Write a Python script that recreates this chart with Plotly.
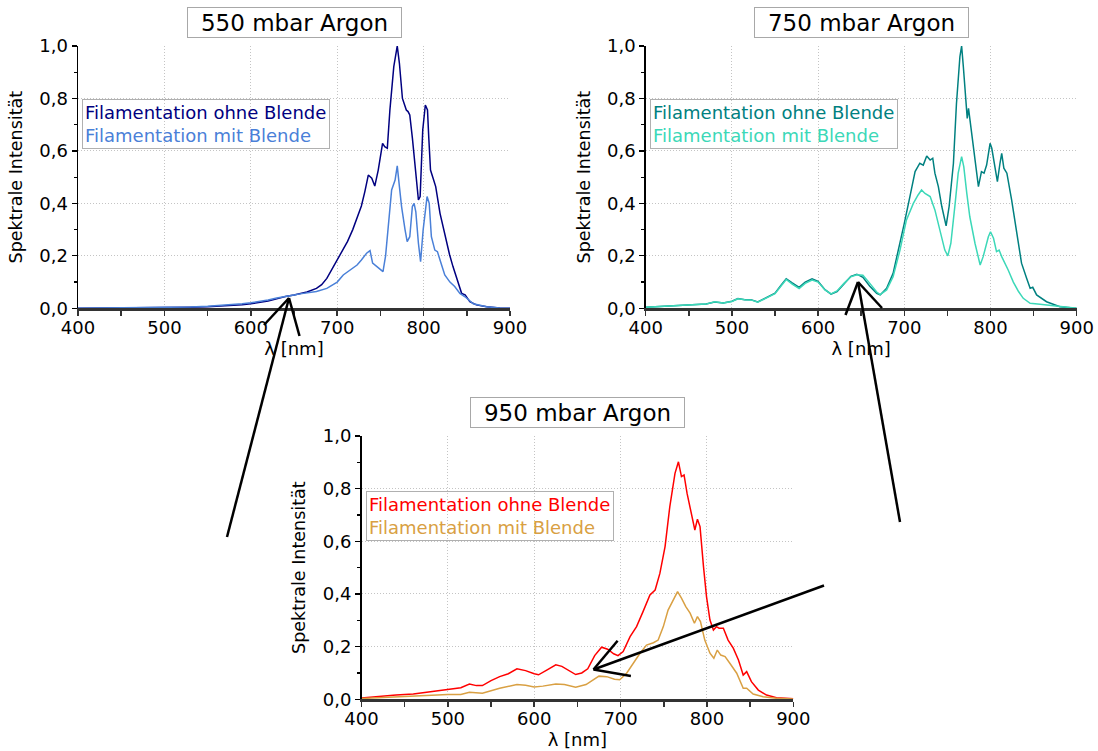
import plotly.graph_objects as go

# ---------------- data ----------------
wl_550_ohne = [400, 450, 500, 530, 550, 570, 590, 600, 610, 620, 630, 640, 650, 657, 665, 676, 682, 688, 694,
               700, 707, 712, 718, 723, 728, 732, 736, 740, 743.5, 747.5, 752.5, 755, 758, 761, 765.5, 769.5,
               772, 775.5, 778, 780, 782, 784, 787, 790, 794, 796, 799, 802, 804.5, 806, 808, 811, 814, 819,
               823, 826.5, 830, 834, 840, 844, 848, 853.5, 861, 873, 888, 900]
int_550_ohne = [0.0, 0.001, 0.002, 0.004, 0.006, 0.009, 0.014, 0.017, 0.022, 0.028, 0.036, 0.045, 0.051, 0.055,
                0.062, 0.076, 0.090, 0.114, 0.150, 0.184, 0.222, 0.255, 0.300, 0.345, 0.390, 0.445, 0.508,
                0.496, 0.466, 0.527, 0.629, 0.616, 0.610, 0.756, 0.921, 1.0, 0.934, 0.800, 0.770, 0.756, 0.750,
                0.737, 0.650, 0.553, 0.413, 0.426, 0.680, 0.775, 0.756, 0.650, 0.527, 0.496, 0.464, 0.362,
                0.300, 0.248, 0.205, 0.159, 0.095, 0.057, 0.051, 0.025, 0.013, 0.006, 0.001, 0.0]

wl_550_mit = [400, 450, 500, 530, 550, 570, 590, 600, 610, 620, 630, 640, 650, 657, 666, 676, 688, 694, 700,
              707, 713, 718.5, 723, 728, 734, 738, 741, 746, 750, 753, 756, 758, 761, 763, 767, 769.5, 772,
              774.5, 778.5, 781, 784, 787, 789, 791, 794, 796.5, 799.5, 802, 804, 806.5, 809, 813, 816, 819,
              824.5, 830.5, 836, 842, 848, 857.5, 873, 888, 900]
int_550_mit = [0.0, 0.001, 0.003, 0.005, 0.008, 0.012, 0.017, 0.021, 0.026, 0.032, 0.039, 0.046, 0.051, 0.055,
               0.060, 0.064, 0.076, 0.088, 0.100, 0.127, 0.140, 0.152, 0.165, 0.184, 0.210, 0.220, 0.172,
               0.159, 0.150, 0.140, 0.200, 0.273, 0.380, 0.451, 0.489, 0.543, 0.464, 0.388, 0.300, 0.254,
               0.273, 0.388, 0.400, 0.368, 0.248, 0.178, 0.300, 0.380, 0.426, 0.400, 0.273, 0.222, 0.216,
               0.184, 0.127, 0.100, 0.083, 0.057, 0.044, 0.017, 0.006, 0.001, 0.0]

wl_750_ohne = [400, 430, 450, 470, 480, 490, 500, 507, 515, 522, 530, 540, 550, 557, 563, 570, 578, 585, 593,
               600, 608, 615, 622, 630, 638, 645, 652, 660, 668, 672, 679.5, 687, 695, 700, 706.5, 712.5, 718,
               722, 726, 730, 733, 735.5, 739.5, 743.5, 748.5, 752, 757, 760.5, 764.5, 766.5, 768.5, 771.5,
               773, 774.5, 777.5, 782, 786, 789.5, 792.5, 795.5, 799.5, 801.5, 805, 808, 811, 813, 815.5, 819,
               824.5, 830.5, 836, 842, 846, 849, 853.5, 865, 880.5, 896, 900]
int_750_ohne = [0.004, 0.008, 0.011, 0.016, 0.024, 0.020, 0.027, 0.037, 0.033, 0.033, 0.024, 0.042, 0.058,
                0.088, 0.113, 0.097, 0.080, 0.100, 0.112, 0.103, 0.071, 0.054, 0.064, 0.093, 0.122, 0.130,
                0.118, 0.084, 0.057, 0.051, 0.076, 0.133, 0.248, 0.324, 0.426, 0.521, 0.553, 0.546, 0.581,
                0.565, 0.572, 0.515, 0.464, 0.388, 0.314, 0.388, 0.553, 0.780, 0.959, 1.0, 0.921, 0.794, 0.724,
                0.762, 0.680, 0.565, 0.464, 0.521, 0.515, 0.546, 0.629, 0.610, 0.540, 0.483, 0.553, 0.591,
                0.534, 0.515, 0.413, 0.286, 0.172, 0.114, 0.076, 0.080, 0.051, 0.025, 0.006, 0.001, 0.0]

wl_750_mit = [400, 430, 450, 470, 480, 490, 500, 507, 515, 522, 530, 540, 550, 557, 563, 570, 578, 585, 593,
              600, 608, 615, 622, 630, 638, 645, 652, 660, 668, 672, 679.5, 687, 695, 702.5, 710.5, 716, 720,
              724, 730, 735.5, 741.5, 747, 750.5, 754, 759, 762.5, 766.5, 769, 772.5, 776, 782, 788, 791.5,
              797.5, 800, 803.5, 807, 810, 813, 817, 820.5, 826.5, 832.5, 838, 846, 857.5, 873, 888.5, 900]
int_750_mit = [0.004, 0.008, 0.011, 0.016, 0.025, 0.020, 0.026, 0.036, 0.033, 0.032, 0.023, 0.040, 0.056,
               0.085, 0.110, 0.092, 0.075, 0.095, 0.108, 0.100, 0.070, 0.055, 0.066, 0.095, 0.120, 0.128,
               0.126, 0.095, 0.062, 0.052, 0.070, 0.120, 0.222, 0.337, 0.400, 0.432, 0.451, 0.438, 0.426,
               0.375, 0.300, 0.222, 0.200, 0.248, 0.400, 0.515, 0.578, 0.540, 0.438, 0.349, 0.248, 0.165,
               0.197, 0.273, 0.292, 0.267, 0.216, 0.222, 0.197, 0.172, 0.146, 0.100, 0.064, 0.038, 0.019,
               0.015, 0.009, 0.003, 0.0]

wl_950_ohne = [400, 420, 440, 460, 480, 500, 515, 525, 533, 540, 550, 560, 570, 580, 590, 600, 605, 615, 625,
               632, 640, 648, 655, 662, 670, 678, 685, 692, 697, 703, 711, 718.5, 726, 734, 740, 745.5, 751.5,
               757, 763, 767, 770.5, 773.5, 777, 781, 786, 789, 792, 796, 799.5, 803.5, 807.5, 811, 814, 819,
               824.5, 830.5, 836.5, 842, 846, 851.5, 859.5, 869, 880.5, 896, 900]
int_950_ohne = [0.005, 0.011, 0.016, 0.020, 0.029, 0.039, 0.044, 0.058, 0.052, 0.052, 0.071, 0.086, 0.097,
                0.116, 0.109, 0.097, 0.093, 0.112, 0.131, 0.125, 0.109, 0.094, 0.100, 0.116, 0.166, 0.198,
                0.190, 0.173, 0.166, 0.181, 0.238, 0.276, 0.333, 0.396, 0.415, 0.478, 0.580, 0.732, 0.858,
                0.902, 0.846, 0.852, 0.782, 0.719, 0.643, 0.684, 0.656, 0.504, 0.390, 0.301, 0.263, 0.276,
                0.270, 0.270, 0.225, 0.194, 0.149, 0.092, 0.105, 0.067, 0.035, 0.016, 0.006, 0.003, 0.002]

wl_950_mit = [400, 450, 500, 515, 525, 540, 560, 580, 590, 600, 610, 625, 635, 648, 660, 675, 684, 693, 699,
              707, 714.5, 722.5, 730, 738, 743.5, 749.5, 755, 761, 766, 770.5, 775.5, 780.5, 785.5, 789,
              792.5, 797.5, 803.5, 808, 812, 816, 821, 826.5, 834.5, 842, 846, 853.5, 865, 880.5, 896, 900]
int_950_mit = [0.003, 0.011, 0.018, 0.018, 0.027, 0.023, 0.042, 0.056, 0.053, 0.047, 0.050, 0.058, 0.056,
               0.046, 0.056, 0.088, 0.086, 0.076, 0.074, 0.099, 0.137, 0.175, 0.206, 0.215, 0.225, 0.276,
               0.339, 0.377, 0.409, 0.384, 0.352, 0.327, 0.289, 0.314, 0.295, 0.225, 0.175, 0.156, 0.187,
               0.168, 0.162, 0.137, 0.099, 0.042, 0.042, 0.020, 0.010, 0.004, 0.001, 0.001]

panel_titles = ["550 mbar Argon", "750 mbar Argon", "950 mbar Argon"]
series_names = ["Filamentation ohne Blende", "Filamentation mit Blende"]
x_ticks = [400, 500, 600, 700, 800, 900]
y_ticks = [0.0, 0.2, 0.4, 0.6, 0.8, 1.0]
x_title = "λ [nm]"
y_title = "Spektrale Intensität"

# ---------------- layout helpers ----------------
W, H = 1098, 751
FONT = "DejaVu Sans"


def fx(px):
    return px / W


def fy(py):
    return 1 - py / H


panels = [
    dict(ax="", xdom=[fx(78), fx(510)], ydom=[fy(308.3), fy(46)],
         colors=["#000080", "#4a80d8"], data=[(wl_550_ohne, int_550_ohne), (wl_550_mit, int_550_mit)],
         title_xy=(294, 22.8), legend_xy=(82.3, 99.5)),
    dict(ax="2", xdom=[fx(645.7), fx(1076.7)], ydom=[fy(308.3), fy(46)],
         colors=["#008080", "#3cd8b8"], data=[(wl_750_ohne, int_750_ohne), (wl_750_mit, int_750_mit)],
         title_xy=(862, 22.8), legend_xy=(649.8, 99.5)),
    dict(ax="3", xdom=[fx(361.5), fx(793.3)], ydom=[fy(699.3), fy(436)],
         colors=["#ff0000", "#d9a043"], data=[(wl_950_ohne, int_950_ohne), (wl_950_mit, int_950_mit)],
         title_xy=(577, 412.5), legend_xy=(365.9, 490.5)),
]

fig = go.Figure()
annotations = []
layout_axes = {}

for i, p in enumerate(panels):
    ax = p["ax"]
    for (wl, inten), name, col in zip(p["data"], series_names, p["colors"]):
        fig.add_trace(go.Scatter(x=wl, y=inten, mode="lines", name=name,
                                 line=dict(color=col, width=1.5),
                                 xaxis="x" + ax, yaxis="y" + ax, showlegend=False))
    layout_axes["xaxis" + ax] = dict(
        domain=p["xdom"], anchor="y" + ax, range=[400, 900], tickvals=x_ticks,
        showline=True, linecolor="#333333", linewidth=2.5, ticks="outside", ticklen=5,
        tickwidth=1.5, tickcolor="#333333", showgrid=True, gridcolor="#c4c4c4", griddash="1px,2px",
        gridwidth=1, zeroline=False, minor=dict(dtick=50, tick0=400, ticks="outside", ticklen=5,
                                               tickcolor="#333333", tickwidth=1.5, showgrid=False),
        tickfont=dict(family=FONT, size=18, color="black"), ticklabelstandoff=-3,
        title=dict(text=x_title, font=dict(family=FONT, size=18, color="black"), standoff=1),
        automargin=False, fixedrange=True)
    layout_axes["yaxis" + ax] = dict(
        domain=p["ydom"], anchor="x" + ax, range=[0, 1.0], tickvals=y_ticks, tickformat=".1f",
        showline=True, linecolor="black", linewidth=1.5, ticks="outside", ticklen=5,
        tickwidth=1.2, tickcolor="black", showgrid=True, gridcolor="#c4c4c4", griddash="1px,2px",
        gridwidth=1, zeroline=False, minor=dict(dtick=0.1, tick0=0, ticks="outside", ticklen=3,
                                               tickcolor="black", tickwidth=1.2, showgrid=False),
        tickfont=dict(family=FONT, size=18, color="black"),
        title=dict(text=y_title, font=dict(family=FONT, size=17.5, color="black"), standoff=12),
        automargin=False, fixedrange=True)

    tx, ty = p["title_xy"]
    annotations.append(dict(
        text=panel_titles[i], x=fx(tx), y=fy(ty), xref="paper", yref="paper",
        xanchor="center", yanchor="middle", showarrow=False,
        font=dict(family=FONT, size=23, color="black"),
        bordercolor="#a8a8a8", borderwidth=1, borderpad=1, bgcolor="white",
        width=211, height=27))

    lx, ly = p["legend_xy"]
    c1, c2 = p["colors"]
    annotations.append(dict(
        text=(f'<span style="color:{c1}">{series_names[0]}</span><br>'
              f'<span style="color:{c2}">{series_names[1]}</span>'),
        x=fx(lx), y=fy(ly), xref="paper", yref="paper", xanchor="left", yanchor="top",
        showarrow=False, align="left", font=dict(family=FONT, size=18),
        bordercolor="#b0b0b0", borderwidth=1, borderpad=2, bgcolor="rgba(255,255,255,0)",
        width=242, height=44))

# ---------------- decorative arrows (pixel coords of the page) ----------------
arrows = [
    dict(tip=(289, 298), tail=(227, 537), heads=[(264, 325), (299.5, 336)]),
    dict(tip=(858, 282), tail=(900, 522), heads=[(845.5, 315), (882, 308)]),
    dict(tip=(593.5, 669.5), tail=(824, 585.5), heads=[(617.6, 640.7), (630.9, 676)]),
]
shapes = []
for a in arrows:
    segs = [(a["tip"], a["tail"])] + [(a["tip"], h) for h in a["heads"]]
    for (x0, y0), (x1, y1) in segs:
        shapes.append(dict(type="line", xref="paper", yref="paper",
                           x0=fx(x0), y0=fy(y0), x1=fx(x1), y1=fy(y1),
                           line=dict(color="black", width=2.5)))

fig.update_layout(
    width=W, height=H, margin=dict(l=0, r=0, t=0, b=0),
    paper_bgcolor="white", plot_bgcolor="white",
    separators=",.", showlegend=False,
    font=dict(family=FONT, color="black"),
    annotations=annotations, shapes=shapes,
    **layout_axes,
)

fig.write_html("out.html", config={"displayModeBar": False, "staticPlot": True},
               post_script="document.body.style.margin='0';document.body.style.overflow='hidden';")
